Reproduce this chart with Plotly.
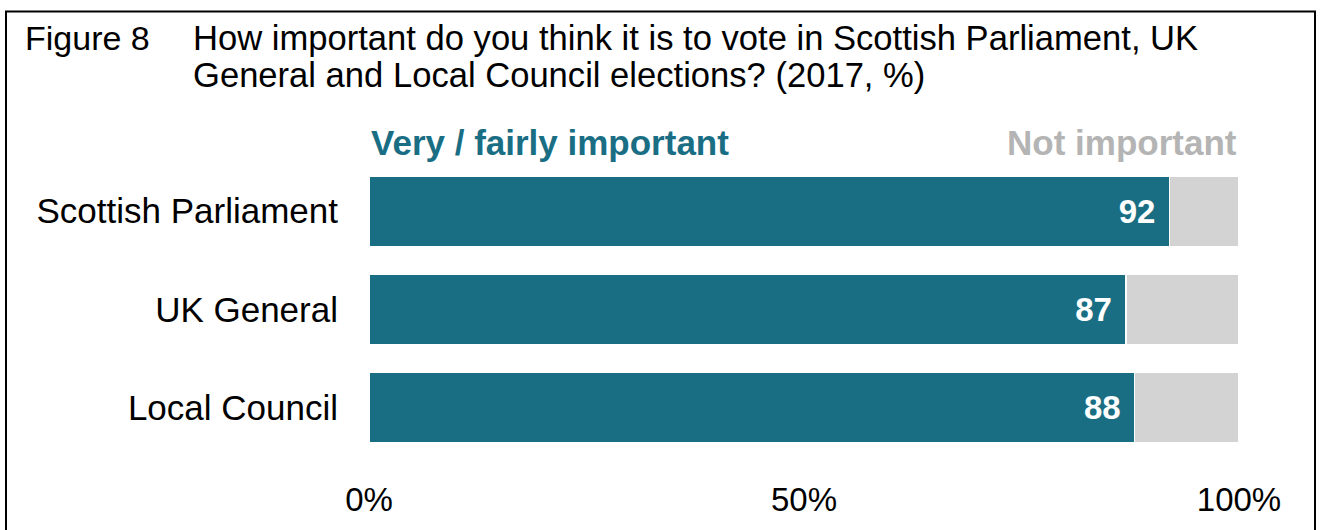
import plotly.graph_objects as go

categories = ["Scottish Parliament", "UK General", "Local Council"]
important = [92, 87, 88]
not_important = [8, 13, 12]
tick_vals = [0, 50, 100]
tick_text = ["0%", "50%", "100%"]

TEAL = "#1a6e84"
GREY = "#d3d3d3"
W, H = 1321, 530
L, R, T, B = 369, 82, 162, 68
PW, PH = W - L - R, H - T - B

def px_x(p):
    return (p - L) / PW

def px_y(p):
    return 1 - (p - T) / PH

fig = go.Figure()
fig.add_trace(go.Bar(
    y=categories, x=important, orientation="h", marker=dict(color=TEAL, line=dict(color="white", width=1.5)),
    text=[str(v) + "\u2006\u2006" for v in important], textposition="inside", insidetextanchor="end",
    textfont=dict(family="Arial, Liberation Sans", size=33, color="white", weight="bold"),
    hoverinfo="skip", showlegend=False,
))
fig.add_trace(go.Bar(
    y=categories, x=not_important, orientation="h", marker=dict(color=GREY, line=dict(color="white", width=1.5)),
    hoverinfo="skip", showlegend=False,
))

font = "Arial, Liberation Sans, sans-serif"
fig.update_layout(
    width=W, height=H, barmode="stack", bargap=0.28,
    margin=dict(l=L, r=R, t=T, b=B),
    paper_bgcolor="white", plot_bgcolor="white",
    font=dict(family=font, color="black"),
    uniformtext=dict(mode="show", minsize=10),
    xaxis=dict(range=[0, 100], tickvals=tick_vals, ticktext=tick_text, showgrid=False, zeroline=False,
               showline=False, ticks="", ticklabelstandoff=20,
               tickfont=dict(family=font, size=33)),
    yaxis=dict(autorange="reversed", showgrid=False, zeroline=False, showline=False, ticks="",
               ticklabelstandoff=30, tickfont=dict(family=font, size=35)),
    shapes=[dict(type="rect", xref="paper", yref="paper",
                 x0=px_x(6), x1=px_x(1315), y0=px_y(600), y1=px_y(9),
                 line=dict(color="black", width=2), fillcolor="rgba(0,0,0,0)", layer="above")],
    annotations=[
        dict(text="Figure 8", xref="paper", yref="paper", x=px_x(23), y=px_y(36), xanchor="left", yanchor="middle",
             showarrow=False, font=dict(family=font, size=34, color="black")),
        dict(text="How important do you think it is to vote in Scottish Parliament, UK",
             xref="paper", yref="paper", x=px_x(191), y=px_y(36), xanchor="left", yanchor="middle",
             showarrow=False, font=dict(family=font, size=34.6, color="black")),
        dict(text="General and Local Council elections? (2017, %)",
             xref="paper", yref="paper", x=px_x(191), y=px_y(74), xanchor="left", yanchor="middle",
             showarrow=False, font=dict(family=font, size=34.6, color="black")),
        dict(text="Very / fairly important", xref="x", yref="paper", x=0, y=px_y(142), xanchor="left", yanchor="middle",
             showarrow=False, font=dict(family=font, size=35, color=TEAL, weight="bold")),
        dict(text="Not important", xref="x", yref="paper", x=100, y=px_y(142), xanchor="right", yanchor="middle",
             showarrow=False, font=dict(family=font, size=35, color="#b4b4b4", weight="bold")),
    ],
)
fig.write_html("out.html")
